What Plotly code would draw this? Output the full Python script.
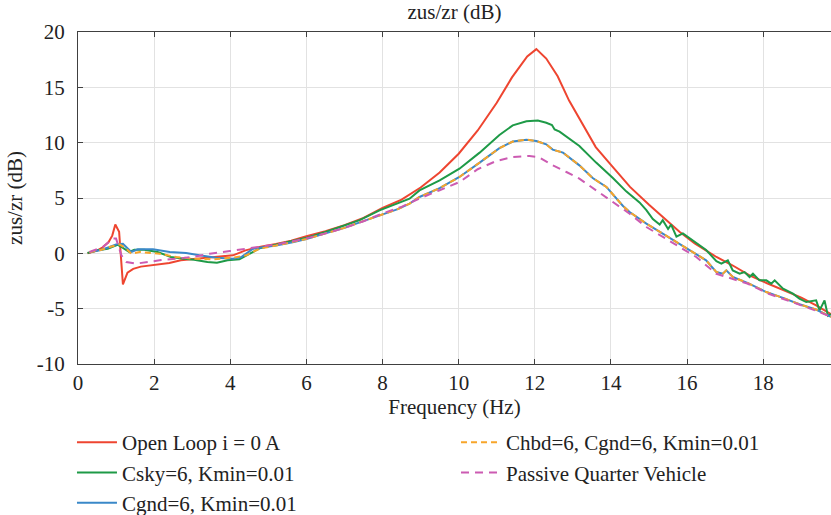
import plotly.graph_objects as go

# ---------------- data ----------------
open_f = [0.25, 0.5, 0.65, 0.8, 0.9, 0.98, 1.08, 1.18, 1.3, 1.45, 1.65, 2.0, 2.4, 2.7, 3.2, 3.6, 4.07, 4.4,
          4.8, 5.2, 5.6, 6.0, 6.5, 7.0, 7.5, 8.0, 8.5, 9.0, 9.5, 10.0, 10.5, 11.0, 11.4, 11.8, 12.04, 12.3,
          12.6, 12.9, 13.2, 13.6, 14.0, 14.5, 15.0, 15.4, 15.8, 16.2, 16.77, 17.2, 17.64, 18.1, 18.52, 19.0,
          19.39, 19.78]
open_db = [0.0, 0.25, 0.55, 1.0, 1.6, 2.6, 1.95, -2.8, -1.75, -1.4, -1.2, -1.05, -0.88, -0.63, -0.47, -0.38,
           -0.18, 0.27, 0.6, 0.85, 1.15, 1.55, 2.0, 2.55, 3.2, 4.1, 4.85, 5.95, 7.3, 9.0, 11.1, 13.6, 15.9,
           17.8, 18.45, 17.6, 16.0, 13.8, 12.0, 9.6, 8.0, 6.0, 4.4, 3.15, 1.95, 0.9, -0.33, -1.1, -1.99,
           -2.7, -3.34, -4.0, -4.7, -5.5]

csky_f = [0.25, 0.51, 0.78, 0.91, 1.04, 1.17, 1.35, 1.48, 1.74, 2.09, 2.44, 2.79, 3.05, 3.4, 3.65, 3.93, 4.24,
          4.77, 5.2, 5.64, 6.0, 6.52, 7.0, 7.4, 7.92, 8.4, 8.71, 8.97, 9.5, 10.02, 10.55, 11.07, 11.42, 11.78,
          12.08, 12.3, 12.45, 12.52, 12.65, 13.17, 13.61, 14.05, 14.4, 14.75, 14.93, 15.1, 15.28, 15.36, 15.5,
          15.58, 15.72, 15.89, 16.15, 16.41, 16.5, 16.77, 16.9, 17.07, 17.2, 17.38, 17.51, 17.64, 17.73,
          17.9, 18.08, 18.21, 18.3, 18.52, 18.78, 18.95, 19.13, 19.39, 19.48, 19.61, 19.7, 19.78]
csky_db = [0.03, 0.27, 0.42, 0.57, 0.78, 0.51, 0.12, 0.33, 0.33, 0.12, -0.33, -0.48, -0.57, -0.78, -0.84,
           -0.63, -0.54, 0.45, 0.8, 1.1, 1.4, 1.95, 2.5, 3.0, 3.88, 4.5, 4.94, 5.69, 6.6, 7.65, 9.1, 10.7,
           11.56, 11.93, 12.0, 11.8, 11.6, 11.2, 11.0, 9.7, 8.2, 6.8, 5.6, 4.6, 3.9, 3.1, 2.6, 3.0, 2.2, 2.6,
           1.5, 1.8, 1.15, 0.45, 0.3, -0.7, -0.93, -0.63, -1.54, -1.84, -1.69, -2.14, -1.84, -2.44, -2.44,
           -2.74, -2.44, -3.19, -3.64, -4.09, -4.4, -4.25, -5.15, -4.25, -5.65, -5.5]

cgnd_f = [0.3, 0.6, 0.83, 1.0, 1.18, 1.27, 1.4, 1.57, 1.97, 2.41, 2.84, 3.19, 3.63, 4.07, 4.29, 4.6, 5.2,
          5.64, 6.0, 6.5, 7.0, 7.4, 7.92, 8.4, 8.71, 8.97, 9.5, 10.02, 10.55, 11.07, 11.42, 11.78, 12.04,
          12.3, 12.47, 12.74, 13.17, 13.52, 13.88, 14.05, 14.31, 14.49, 14.93, 15.36, 15.8, 16.24, 16.5,
          16.77, 16.94, 17.03, 17.2, 17.6, 18.08, 18.5, 18.95, 19.4, 19.78]
cgnd_db = [0.1, 0.3, 0.57, 0.81, 0.87, 0.57, 0.12, 0.36, 0.36, 0.12, 0.03, -0.18, -0.39, -0.48, -0.33, 0.42,
           0.7, 1.0, 1.3, 1.8, 2.3, 2.8, 3.43, 4.0, 4.49, 5.09, 5.9, 6.9, 8.2, 9.5, 10.1, 10.27, 10.15, 9.85,
           9.37, 9.1, 7.95, 6.8, 6.0, 5.3, 4.3, 3.73, 2.68, 1.78, 0.87, -0.03, -0.63, -1.69, -1.84, -1.54,
           -2.14, -2.7, -3.5, -4.0, -4.6, -5.1, -5.75]

chbd_f = [0.3, 0.6, 0.83, 1.09, 1.27, 1.4, 1.62, 2.14, 2.58, 3.02, 3.54, 4.07, 4.42, 4.77, 5.2, 5.64, 6.0,
          6.5, 7.0, 7.4, 7.92, 8.4, 8.71, 8.97, 9.5, 10.02, 10.55, 11.07, 11.42, 11.78, 12.04, 12.3, 12.47,
          12.74, 13.17, 13.52, 13.88, 14.05, 14.31, 14.49, 14.93, 15.36, 15.8, 16.24, 16.5, 16.77, 16.94,
          17.03, 17.2, 17.6, 18.08, 18.5, 18.95, 19.4, 19.78]
chbd_db = [0.1, 0.3, 0.57, 0.81, 0.42, -0.03, 0.12, -0.03, -0.33, -0.48, -0.54, -0.39, -0.18, 0.42, 0.7,
           1.0, 1.3, 1.8, 2.3, 2.8, 3.43, 4.0, 4.49, 5.09, 5.9, 6.9, 8.2, 9.5, 10.1, 10.27, 10.15, 9.85,
           9.37, 9.1, 7.95, 6.8, 6.0, 5.3, 4.3, 3.73, 2.68, 1.78, 0.87, -0.03, -0.63, -1.69, -1.84, -1.54,
           -2.14, -2.7, -3.5, -4.0, -4.6, -5.1, -5.75]

passive_f = [0.3, 0.65, 0.92, 1.0, 1.14, 1.27, 1.53, 2.14, 3.02, 3.46, 3.99, 4.42, 4.77, 5.2, 5.64, 6.0,
             6.5, 7.0, 7.5, 8.0, 8.5, 9.0, 9.5, 10.02, 10.5, 10.99, 11.42, 11.86, 12.1, 12.47, 12.83,
             13.17, 13.61, 14.05, 14.49, 14.93, 15.36, 15.8, 16.24, 16.77, 17.2, 17.6, 18.1, 18.5, 19.0,
             19.4, 19.78]
passive_db = [0.12, 0.57, 1.33, 1.33, -0.18, -0.78, -0.93, -0.63, -0.33, -0.03, 0.21, 0.42, 0.57, 0.8, 1.1,
              1.35, 1.8, 2.3, 2.9, 3.6, 4.2, 5.0, 5.7, 6.44, 7.6, 8.35, 8.7, 8.8, 8.7, 7.95, 7.35, 6.75,
              5.69, 4.64, 3.58, 2.38, 1.47, 0.57, -0.33, -1.85, -2.3, -2.75, -3.6, -4.1, -4.7, -5.2, -5.75]

x_ticks = [0, 2, 4, 6, 8, 10, 12, 14, 16, 18]
y_ticks = [-10, -5, 0, 5, 10, 15, 20]
y_tick_labels = ["-10", "-5", "0", "5", "10", "15", "20"]

FONT = "Liberation Serif, DejaVu Serif, serif"
TXT = "#222222"

fig = go.Figure()
fig.add_trace(go.Scatter(x=open_f, y=open_db, mode="lines", name="Open Loop i = 0 A",
                         line=dict(color="#EE4530", width=2), legend="legend"))
fig.add_trace(go.Scatter(x=csky_f, y=csky_db, mode="lines", name="Csky=6, Kmin=0.01",
                         line=dict(color="#1E9A47", width=2), legend="legend"))
fig.add_trace(go.Scatter(x=cgnd_f, y=cgnd_db, mode="lines", name="Cgnd=6, Kmin=0.01",
                         line=dict(color="#3A88C8", width=2), legend="legend"))
fig.add_trace(go.Scatter(x=chbd_f, y=chbd_db, mode="lines", name="Chbd=6, Cgnd=6, Kmin=0.01",
                         line=dict(color="#F7A52A", width=2, dash="6px,4px"), legend="legend2"))
fig.add_trace(go.Scatter(x=passive_f, y=passive_db, mode="lines", name="Passive Quarter Vehicle",
                         line=dict(color="#CC5BB2", width=2, dash="8px,6px"), legend="legend2"))

legend_common = dict(orientation="v", xanchor="left", yanchor="top", itemwidth=40,
                     font=dict(family=FONT, size=21, color=TXT), bgcolor="rgba(0,0,0,0)",
                     tracegroupgap=0, traceorder="normal")

fig.update_layout(
    width=831, height=515,
    margin=dict(l=78, r=0, t=32, b=151, autoexpand=False),
    paper_bgcolor="white", plot_bgcolor="white",
    font=dict(family=FONT, size=21, color=TXT),
    title=dict(text="zus/zr (dB)", x=0.5, xanchor="center", xref="paper", y=0.977, yanchor="middle",
               font=dict(family=FONT, size=21, color=TXT)),
    showlegend=True,
    legend=dict(x=-0.008, y=-0.175, **legend_common),
    legend2=dict(x=0.502, y=-0.175, **legend_common),
)
fig.update_xaxes(range=[0, 19.78], tickvals=x_ticks, ticks="inside", ticklen=5, tickcolor="#404040",
                 showline=True, linecolor="#404040", linewidth=1, mirror="ticks", automargin=False,
                 showgrid=True, gridcolor="#e2e2e2", gridwidth=1, zeroline=False, ticklabelstandoff=0,
                 title=dict(text="Frequency (Hz)", standoff=4, font=dict(family=FONT, size=21)),
                 tickfont=dict(family=FONT, size=21))
fig.update_yaxes(range=[-10, 20], tickvals=y_ticks, ticktext=y_tick_labels, ticks="inside", ticklen=5,
                 tickcolor="#404040", showline=True, linecolor="#404040", linewidth=1, automargin=False,
                 showgrid=True, gridcolor="#e2e2e2", gridwidth=1, zeroline=False, ticklabelstandoff=8,
                 title=dict(text="zus/zr (dB)", standoff=8, font=dict(family=FONT, size=21)),
                 tickfont=dict(family=FONT, size=21))

fig.write_html("out.html", config={"displayModeBar": False},
               post_script="document.body.style.margin='0';document.body.style.overflow='hidden';")
